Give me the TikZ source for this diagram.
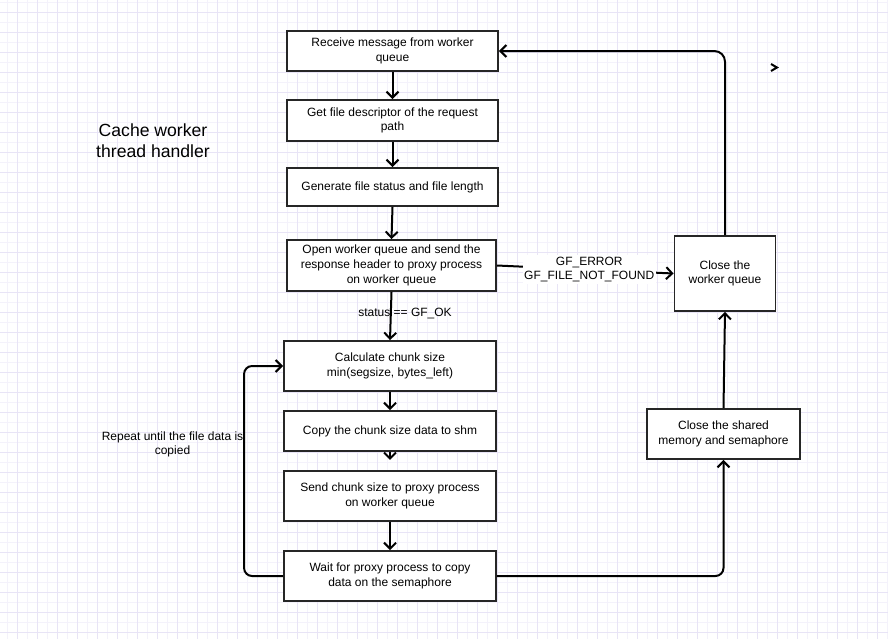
\documentclass[tikz,border=0pt]{standalone}
\usepackage{fontspec}
\setmainfont{Liberation Sans}
\usetikzlibrary{arrows.meta,calc}
\definecolor{gridminor}{HTML}{F4F2FB}
\definecolor{gridmajor}{HTML}{E8E4F6}
\begin{document}
\begin{tikzpicture}[x=0.75pt,y=-0.75pt,
  box/.style={draw=black!85, line width=1.4pt, fill=white, align=center,
    font=\fontsize{9}{11}\selectfont, inner sep=2pt},
  arr/.style={line width=1.5pt, -{Straight Barb[length=4.5pt,width=9pt,line width=1.5pt]}},
  lbl/.style={align=center, font=\fontsize{9}{11}\selectfont, inner sep=1pt}]
\useasboundingbox (0,0) rectangle (888,639);
\fill[white] (0,0) rectangle (888,639);
\foreach \x in {7,27,...,887} \draw[gridminor, line width=0.75pt] (\x,0) -- (\x,639);
\foreach \y in {2,22,...,638} \draw[gridminor, line width=0.75pt] (0,\y) -- (888,\y);
\foreach \x in {17,37,...,887} \draw[gridmajor, line width=0.75pt] (\x,0) -- (\x,639);
\foreach \y in {12,32,...,638} \draw[gridmajor, line width=0.75pt] (0,\y) -- (888,\y);

\node[box, minimum width=211*0.75pt, minimum height=40*0.75pt] (n1) at (392.5,51) {Receive message from worker\\queue};
\node[box, minimum width=211*0.75pt, minimum height=41*0.75pt] (n2) at (392.5,120.5) {Get file descriptor of the request\\path};
\node[box, minimum width=211*0.75pt, minimum height=38*0.75pt] (n3) at (392.5,187) {Generate file status and file length};
\node[box, minimum width=209*0.75pt, minimum height=51*0.75pt] (n4) at (391.5,265.5) {Open worker queue and send the\\response header to proxy process\\on worker queue};
\node[box, minimum width=212*0.75pt, minimum height=50*0.75pt] (n5) at (390,366) {Calculate chunk size\\min(segsize, bytes\_left)};
\node[box, minimum width=212*0.75pt, minimum height=40*0.75pt] (n6) at (390,431) {Copy the chunk size data to shm};
\node[box, minimum width=212*0.75pt, minimum height=50*0.75pt] (n7) at (390,496) {Send chunk size to proxy process\\on worker queue};
\node[box, minimum width=212*0.75pt, minimum height=50*0.75pt] (n8) at (390,576) {Wait for proxy process to copy\\data on the semaphore};
\node[box, minimum width=101*0.75pt, minimum height=75*0.75pt] (n9) at (725,273.5) {Close the\\worker queue};
\node[box, minimum width=153*0.75pt, minimum height=50*0.75pt] (n10) at (723.5,434) {Close the shared\\memory and semaphore};

\node[align=center, font=\fontsize{13.2}{15.5}\selectfont] (title) at (153,141) {Cache worker\\thread handler};

\draw[arr] (n1.south) -- (n2.north);
\draw[arr] (n2.south) -- (n3.north);
\draw[arr] (n3.south) -- (n4.north);
\draw[arr] (n4.south) -- (n5.north);
\node[lbl] (okl) at (405,313) {status == GF\_OK};
\draw[arr] (n5.south) -- (n6.north);
\draw[arr] (n6.south) -- ++(0,8);
\draw[arr] (n7.south) -- (n8.north);
\draw[arr, rounded corners=6pt] (n8.west) -- ++(-39,0) |- (n5.west);
\node[lbl] (rep) at (172.5,444.5) {Repeat until the file data is\\copied};
\draw[arr, rounded corners=6pt] (n8.east) -| (n10.south);
\draw[arr] (n10.north) -- (n9.south);
\draw[arr, rounded corners=8pt] (n9.north) |- (n1.east);
\draw[arr] (n4.east) -- (n9.west) node[lbl, midway, xshift=3pt, fill=white] {GF\_ERROR\\GF\_FILE\_NOT\_FOUND};
\coordinate (stray) at (777,67.5);
\draw[line width=1.5pt] ($(stray)+(-6,-3.5)$) -- (stray) -- ($(stray)+(-6,3.5)$);
\end{tikzpicture}
\end{document}
